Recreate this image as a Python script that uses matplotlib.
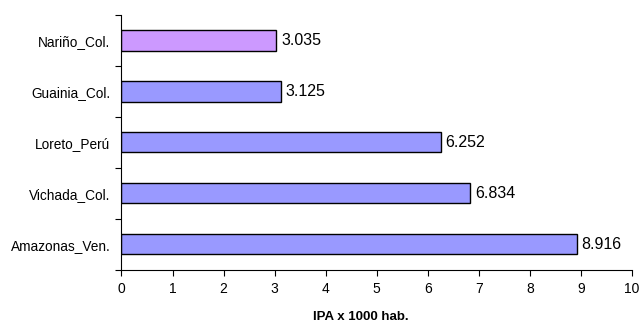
import matplotlib
matplotlib.use("Agg")
import matplotlib.pyplot as plt
from matplotlib.ticker import FixedLocator, NullFormatter

plt.rcParams['font.family'] = ['Liberation Sans', 'DejaVu Sans']

# Incidence data (bottom to top as drawn)
regions = ["Amazonas_Ven.", "Vichada_Col.", "Loreto_Perú", "Guainia_Col.", "Nariño_Col."]
ipa = [8.916, 6.834, 6.252, 3.125, 3.035]
value_labels = ["8.916", "6.834", "6.252", "3.125", "3.035"]
bar_colors = ["#9999FF", "#9999FF", "#9999FF", "#9999FF", "#CC99FF"]
x_ticks = [0, 1, 2, 3, 4, 5, 6, 7, 8, 9, 10]

fig = plt.figure(figsize=(6.4, 3.23), dpi=100)
ax = fig.add_axes([0.1898, 0.1656, 0.7977, 0.788])

pos = list(range(len(regions)))
ax.barh(pos, ipa, height=0.4, color=bar_colors, edgecolor="black", linewidth=1.0)

for p, v, lab in zip(pos, ipa, value_labels):
    ax.text(v + 0.09, p, lab, va="center", ha="left", fontsize=11.5)

ax.set_xlim(0, 10)
ax.set_ylim(-0.5, len(regions) - 0.5)
ax.set_xticks(x_ticks)
ax.set_xticklabels([str(t) for t in x_ticks], fontsize=10)

# Category labels centered on bars, tick marks on category boundaries
ax.yaxis.set_major_locator(FixedLocator([i - 0.5 for i in range(len(regions) + 1)]))
ax.yaxis.set_major_formatter(NullFormatter())
ax.yaxis.set_minor_locator(FixedLocator(pos))
ax.set_yticklabels(regions, minor=True, fontsize=9.8)
ax.tick_params(axis="y", which="minor", length=0, pad=8)
ax.tick_params(axis="y", which="major", length=4, direction="out", width=0.8)
ax.tick_params(axis="x", length=4, direction="out", width=0.8, pad=5)

fig.text(361 / 640, 0.018, "IPA x 1000 hab.", fontsize=9.5, fontweight="bold",
         ha="center", va="center")

for s in ("top", "right"):
    ax.spines[s].set_visible(False)
for s in ("left", "bottom"):
    ax.spines[s].set_linewidth(0.8)

fig.savefig("out.png", dpi=100)
